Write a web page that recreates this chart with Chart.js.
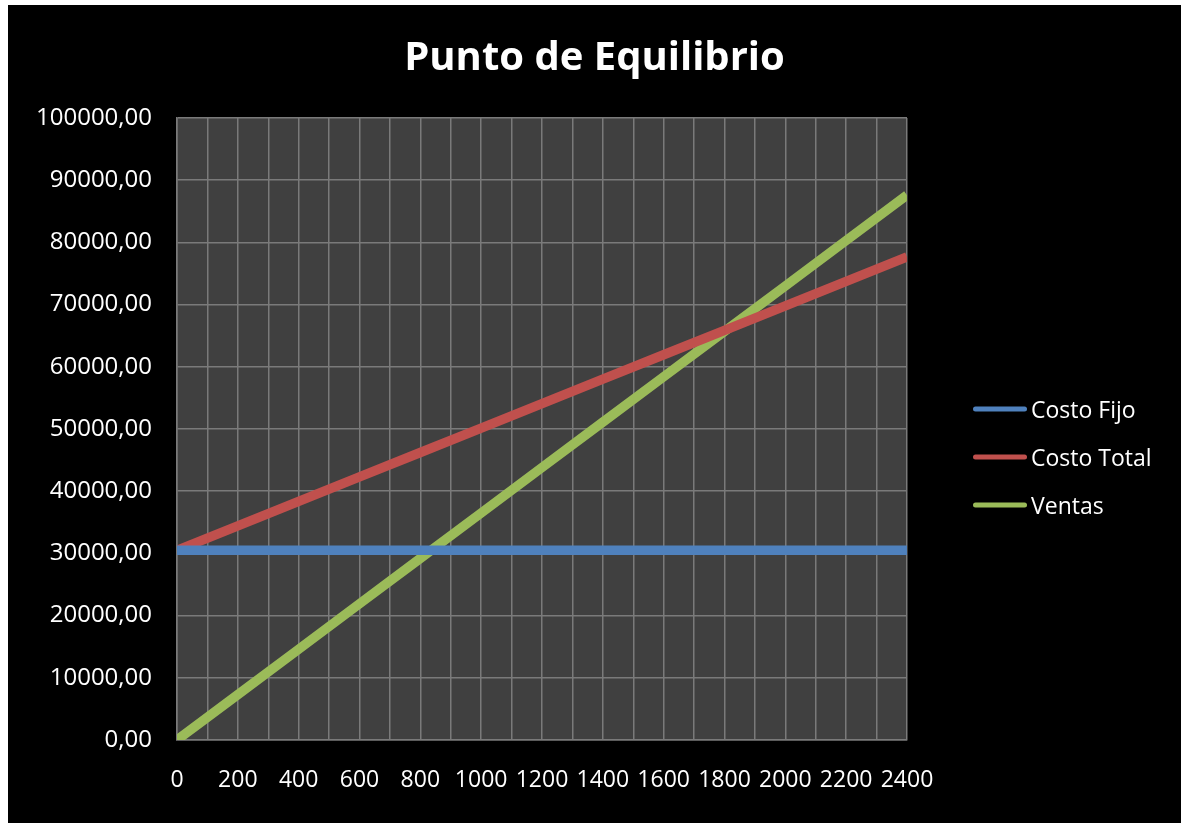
<!DOCTYPE html>
<html>
<head>
<meta charset="utf-8">
<script src="https://cdn.jsdelivr.net/npm/chart.js@4"></script>
<style>
  html, body { margin: 0; padding: 0; background: #ffffff; }
  #wrap { position: absolute; left: 8px; top: 5px; width: 1173px; height: 818px; background: #000000; }
  canvas { display: block; }
</style>
</head>
<body>
<div id="wrap"><canvas id="chart" width="1173" height="818"></canvas></div>
<script>
// Unidades producidas (eje X)
const unidades = [0, 200, 400, 600, 800, 1000, 1200, 1400, 1600, 1800, 2000, 2200, 2400];
// Series
const costoFijo  = [30500, 30500, 30500, 30500, 30500, 30500, 30500, 30500, 30500, 30500, 30500, 30500, 30500];
const costoTotal = [30500, 34430, 38360, 42290, 46220, 50150, 54080, 58010, 61940, 65870, 69800, 73730, 77660];
const ventas     = [0, 7300, 14600, 21900, 29200, 36500, 43800, 51100, 58400, 65700, 73000, 80300, 87600];
const seriesNames = ['Costo Fijo', 'Costo Total', 'Ventas'];
const seriesColors = ['#4F81BD', '#C0504D', '#9BBB59'];

const FONT = "'Open Sans', 'DejaVu Sans', sans-serif";

function toPoints(ys) { return unidades.map((x, i) => ({ x: x, y: ys[i] })); }

// Fondo gris del área de trazado
const plotBackground = {
  id: 'plotBackground',
  beforeDraw(chart) {
    const { ctx, chartArea: a } = chart;
    ctx.save();
    ctx.fillStyle = '#404040';
    ctx.fillRect(a.left, a.top, a.right - a.left, a.bottom - a.top);
    ctx.restore();
  }
};

// Leyenda a la derecha con trazos redondeados
const sideLegend = {
  id: 'sideLegend',
  afterDraw(chart) {
    const ctx = chart.ctx;
    const x0 = 965, x1 = 1019, tx = 1023;
    const ys = [404, 452, 500];
    ctx.save();
    ctx.font = "23px " + FONT;
    ctx.textBaseline = 'middle';
    ctx.textAlign = 'left';
    chart.data.datasets.forEach((ds, i) => {
      ctx.strokeStyle = ds.borderColor;
      ctx.lineWidth = 5;
      ctx.lineCap = 'round';
      ctx.beginPath();
      ctx.moveTo(x0 + 2.5, ys[i]);
      ctx.lineTo(x1 - 2.5, ys[i]);
      ctx.stroke();
      ctx.fillStyle = '#ffffff';
      ctx.fillText(ds.label, tx, ys[i] + 2);
    });
    ctx.restore();
  }
};

const datasets = [costoFijo, costoTotal, ventas].map((ys, i) => ({
  label: seriesNames[i],
  data: toPoints(ys),
  borderColor: seriesColors[i],
  backgroundColor: seriesColors[i],
  borderWidth: 9.5,
  pointRadius: 0,
  showLine: true,
  tension: 0,
  clip: 0
}));

new Chart(document.getElementById('chart'), {
  type: 'scatter',
  data: { datasets },
  options: {
    responsive: false,
    animation: false,
    layout: { padding: 0 },
    plugins: {
      legend: { display: false },
      tooltip: { enabled: false },
      title: {
        display: true,
        text: 'Punto de Equilibrio',
        color: '#ffffff',
        font: { family: FONT, size: 40, weight: 'bold' },
        padding: { top: 30, bottom: 35 }
      }
    },
    scales: {
      x: {
        type: 'linear',
        min: 0, max: 2400,
        afterFit(scale) { scale.height = 83; },
        grid: { color: '#7a7a7a', lineWidth: 1.5, drawTicks: false },
        border: { color: '#7a7a7a', width: 1.5 },
        ticks: {
          stepSize: 100,
          autoSkip: false,
          maxRotation: 0,
          padding: 27,
          color: '#ffffff',
          font: { family: FONT, size: 23 },
          callback: (v) => (v % 200 === 0 ? String(v) : '')
        }
      },
      y: {
        min: 0, max: 100000,
        afterFit(scale) { scale.width = 169; },
        grid: { color: '#7a7a7a', lineWidth: 1.5, drawTicks: false },
        border: { color: '#7a7a7a', width: 1.5 },
        ticks: {
          stepSize: 10000,
          padding: 25,
          color: '#ffffff',
          font: { family: FONT, size: 24 },
          callback: (v) => v.toFixed(2).replace('.', ',')
        }
      },
      // Espacio reservado a la derecha para la leyenda
      legendSpace: {
        type: 'linear',
        position: 'right',
        afterFit(scale) { scale.width = 274; },
        grid: { display: false, drawTicks: false },
        border: { display: false },
        ticks: { display: false }
      }
    }
  },
  plugins: [plotBackground, sideLegend]
});
</script>
</body>
</html>
